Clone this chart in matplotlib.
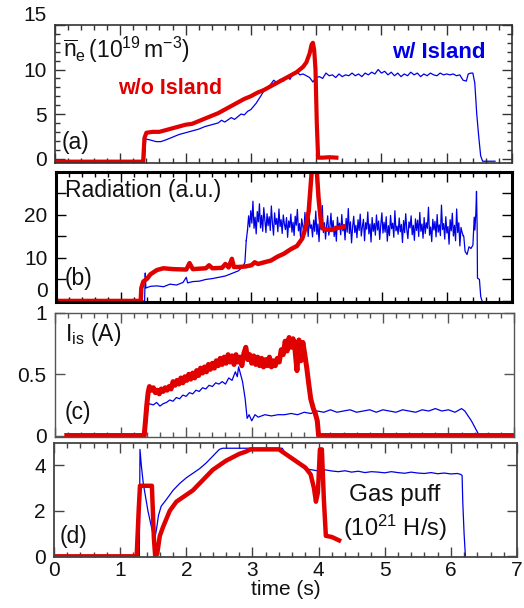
import numpy as np
import matplotlib
matplotlib.use("Agg")
import matplotlib.pyplot as plt
from matplotlib.ticker import MultipleLocator, NullFormatter

plt.rcParams['font.family'] = ['Liberation Sans', 'DejaVu Sans']
plt.rcParams['mathtext.fontset'] = 'custom'
plt.rcParams['mathtext.rm'] = 'Liberation Sans'
plt.rcParams['mathtext.it'] = 'Liberation Sans:italic'
plt.rcParams['mathtext.bf'] = 'Liberation Sans:bold'

RED = '#e00000'
BLUE = '#0000e6'

# ---------------- (a) line-averaged density ----------------
ne_red_t = [0, 1.35, 1.37, 1.40, 1.5, 1.6, 1.7, 1.8, 1.9, 2.0, 2.1, 2.2, 2.3, 2.4, 2.5, 2.6, 2.7,
            2.8, 2.9, 3.0, 3.1, 3.2, 3.3, 3.4, 3.5, 3.6, 3.7, 3.8, 3.85, 3.9, 3.93, 3.95, 3.97,
            3.99, 4.01, 4.03, 4.1, 4.2, 4.31]
ne_red_v = [-0.35, -0.35, 2.3, 2.9, 3.0, 3.0, 3.2, 3.4, 3.6, 3.8, 3.9, 4.2, 4.5, 4.8, 5.1, 5.5, 5.9,
            6.3, 6.7, 7.0, 7.4, 7.7, 8.1, 8.5, 8.9, 9.3, 9.7, 10.3, 10.8, 11.8, 12.8, 13.0, 12.2,
            10.0, 4.0, 0.1, 0.1, 0.15, 0.1]

ne_blue_t = [0, 1.37, 1.39, 1.45, 1.55, 1.62, 1.7, 1.8, 1.9, 2.0, 2.1, 2.2, 2.3, 2.4, 2.5, 2.55,
             2.6, 2.7, 2.75, 2.85, 2.9, 2.95, 3.0, 3.08, 3.15, 3.2, 3.3, 3.35, 3.4, 3.45, 3.5,
             3.55, 3.6, 3.65, 3.7, 3.75, 3.8, 3.85, 3.9, 3.95, 4.0, 4.05, 4.1, 4.15, 4.2, 4.25,
             4.3, 4.35, 4.4, 4.45, 4.5, 4.55, 4.6, 4.65, 4.7, 4.75, 4.8, 4.85, 4.9, 4.95, 5.0,
             5.05, 5.1, 5.15, 5.2, 5.25, 5.3, 5.35, 5.4, 5.45, 5.5, 5.55, 5.6, 5.65, 5.7, 5.75,
             5.8, 5.85, 5.9, 5.95, 6.0, 6.05, 6.1, 6.15, 6.2, 6.25, 6.3, 6.33, 6.37, 6.40, 6.43,
             6.46, 6.49, 6.52, 6.55, 6.74]
ne_blue_v = [-0.35, -0.35, 2.2, 2.1, 1.9, 1.9, 2.1, 2.4, 2.7, 2.9, 3.1, 3.3, 3.6, 3.8, 4.0, 4.3,
             4.1, 4.6, 4.4, 5.0, 4.9, 5.3, 5.5, 6.2, 7.0, 7.6, 8.3, 8.8, 8.5, 8.9, 8.7,
             9.2, 8.9, 9.6, 9.8, 9.4, 9.5, 9.3, 9.1, 8.6, 9.1, 9.2, 9.0, 9.6, 9.3, 9.4,
             9.1, 9.5, 9.2, 9.4, 9.3, 9.6, 9.3, 9.5, 9.2, 9.6, 9.4, 9.7, 9.5, 10.0, 9.6,
             9.8, 9.4, 9.7, 9.3, 9.6, 9.2, 9.5, 9.3, 9.7, 9.4, 9.6, 9.2, 9.5, 9.3, 9.6,
             9.4, 9.3, 9.6, 9.4, 9.5, 9.4, 9.5, 9.3, 9.4, 8.8, 8.7, 9.5, 9.6, 9.6, 8.5,
             5.0, 2.5, 0.3, -0.3, -0.3]

# ---------------- (b) radiation ----------------
rad_red_t = [0, 1.30, 1.31, 1.34, 1.40, 1.45, 1.55, 1.65, 1.8, 2.0, 2.05, 2.1, 2.3, 2.35, 2.4,
             2.55, 2.6, 2.65, 2.7, 2.73, 2.8, 2.9, 3.0, 3.05, 3.1, 3.2, 3.3, 3.4, 3.5, 3.6, 3.7,
             3.78, 3.84, 3.88, 3.91, 3.93, 4.0, 4.03, 4.07, 4.10, 4.2, 4.3, 4.42]
rad_red_v = [0, 0, 3.0, 4.5, 5.2, 6.2, 7.2, 7.6, 7.4, 7.3, 8.8, 7.4, 7.6, 8.3, 7.6,
             7.7, 8.6, 7.8, 9.8, 7.9, 7.9, 8.0, 8.3, 9.0, 8.6, 9.0, 9.4, 10.3, 11.0, 12.0, 12.8,
             14.5, 17.5, 21.0, 27.0, 31.0, 31.0, 24.0, 18.0, 16.8, 16.5, 16.9, 17.3]

rad_blue_t_start = [0, 1.36, 1.37, 1.38, 1.45, 1.55, 1.65, 1.75, 1.85, 1.95, 2.0, 2.02, 2.1,
                    2.2, 2.3, 2.4, 2.5, 2.6, 2.7, 2.8, 2.87, 2.90, 2.92]
rad_blue_v_start = [0, 0, 6.5, 3.0, 3.4, 3.5, 3.3, 3.9, 3.7, 4.3, 5.5, 4.2, 4.5,
                    4.6, 5.0, 5.2, 5.5, 5.8, 6.4, 7.0, 8.0, 9.0, 14.0]
rad_blue_noisy = [16.5, 19.8, 17.2, 21.0, 18.1, 23.2, 16.9, 19.5, 15.6, 20.8, 18.4, 22.6, 17.0, 19.9, 16.2, 21.7, 18.8, 15.9, 20.3, 17.5,
                  19.6, 16.4, 22.1, 18.0, 15.3, 20.5, 17.8, 19.2, 16.1, 21.4, 17.3, 18.9, 15.7, 20.0, 17.9, 16.6, 19.4, 14.8, 18.6, 17.1,
                  20.2, 16.0, 18.3, 15.2, 19.7, 17.6, 21.3, 16.3, 18.0, 14.6, 19.1, 17.4, 15.8, 20.6, 16.7, 18.5, 15.0, 19.3, 16.9, 17.7,
                  14.9, 18.8, 16.2, 20.9, 15.5, 17.9, 13.8, 19.0, 16.6, 22.2, 15.9, 18.2, 14.4, 17.6, 19.8, 15.3, 17.0, 20.4, 16.1, 18.7,
                  15.0, 17.4, 13.9, 19.5, 16.8, 18.1, 15.4, 20.1, 16.3, 17.8, 14.2, 19.2, 16.0, 21.5, 15.7, 18.4, 13.5, 17.2, 19.7, 15.9,
                  17.6, 14.7, 18.9, 16.4, 20.2, 15.1, 17.3, 19.0, 14.0, 18.2, 16.7, 20.7, 15.6, 17.9, 13.7, 19.4, 16.2, 18.0, 15.3, 20.0,
                  16.5, 18.6, 14.3, 17.7, 20.5, 15.8, 18.3, 16.0, 19.6, 13.9, 17.5, 15.2, 19.9, 16.8, 18.1, 14.8, 21.0, 16.3, 17.4, 15.5,
                  19.3, 16.1, 17.8, 13.6, 18.7, 15.9, 20.3, 16.6, 14.5, 18.4, 17.0, 19.8, 15.4, 17.6, 14.1, 19.1, 16.4, 18.8, 15.0, 20.6,
                  16.2, 17.9, 14.6, 19.4, 15.7, 18.2, 16.9, 21.8, 15.3, 17.2, 13.8, 19.0, 16.5, 18.5, 14.9, 20.1, 16.0, 17.7, 15.2, 22.3,
                  16.6, 18.0, 14.4, 19.6, 15.8, 17.3, 13.2, 18.9, 16.3, 20.4, 15.1, 17.6, 14.0, 21.4, 15.9, 18.2, 12.8, 17.1, 16.0, 15.2]
rad_blue_noisy_range = (2.94, 6.25)
rad_blue_t_end = [6.26, 6.28, 6.31, 6.34, 6.37, 6.40, 6.42, 6.43, 6.445, 6.455, 6.465, 6.47,
                  6.50, 6.52, 6.54]
rad_blue_v_end = [15.0, 11.5, 10.8, 12.6, 12.2, 13.0, 19.5, 16.5, 20.5, 25.5, 17.0, 5.3,
                  5.0, 1.0, 0.0]

# ---------------- (c) ion saturation current ----------------
iis_red_t_start = [0.18, 1.36, 1.38, 1.40, 1.42]
iis_red_v_start = [0, 0, 0.12, 0.25, 0.35]
iis_red_noisy = [0.40, 0.37, 0.39, 0.35, 0.37, 0.34, 0.38, 0.36, 0.39, 0.37, 0.40,
                 0.38, 0.44, 0.41, 0.45, 0.42, 0.47, 0.43, 0.48, 0.45, 0.50, 0.46,
                 0.51, 0.47, 0.53, 0.49, 0.55, 0.51, 0.56, 0.52, 0.58, 0.54, 0.59,
                 0.55, 0.61, 0.57, 0.63, 0.58, 0.64, 0.59, 0.66, 0.60, 0.65, 0.58,
                 0.66, 0.60, 0.64, 0.57, 0.67, 0.72, 0.62, 0.66, 0.59, 0.65, 0.58,
                 0.64, 0.57, 0.63, 0.56, 0.62, 0.57, 0.64, 0.56, 0.61, 0.57, 0.63,
                 0.60, 0.70, 0.66, 0.77, 0.69, 0.80, 0.72, 0.79, 0.70, 0.53, 0.78,
                 0.61, 0.76, 0.66, 0.55]
iis_red_noisy_range = (1.44, 3.84)
iis_red_t_end = [3.87, 3.90, 3.94, 3.97, 4.00, 4.02, 6.98]
iis_red_v_end = [0.42, 0.30, 0.22, 0.18, 0.12, 0.0, 0.0]

iis_blue_t = [0.18, 1.38, 1.40, 1.43, 1.5, 1.55, 1.6, 1.65, 1.7, 1.75, 1.8, 1.85, 1.9, 1.95,
              2.0, 2.05, 2.1, 2.15, 2.2, 2.25, 2.3, 2.35, 2.4, 2.45, 2.5, 2.55, 2.6, 2.65, 2.7,
              2.75, 2.78, 2.8, 2.83, 2.86, 2.9, 2.93, 2.96, 3.0, 3.05, 3.1, 3.2, 3.3, 3.4, 3.5,
              3.6, 3.7, 3.8, 3.9, 4.0, 4.1, 4.2, 4.3, 4.4, 4.5, 4.6, 4.7, 4.8, 4.9, 5.0, 5.1,
              5.2, 5.3, 5.4, 5.5, 5.6, 5.7, 5.8, 5.9, 6.0, 6.1, 6.2, 6.25, 6.3, 6.35, 6.4, 6.45,
              6.48, 6.95]
iis_blue_v = [0, 0, 0.15, 0.26, 0.25, 0.27, 0.24, 0.26, 0.27, 0.29, 0.28, 0.31, 0.30, 0.33,
              0.32, 0.35, 0.34, 0.37, 0.36, 0.39, 0.38, 0.41, 0.40, 0.43, 0.42, 0.44, 0.42, 0.47,
              0.45, 0.52, 0.48, 0.56, 0.50, 0.44, 0.30, 0.14, 0.17, 0.12, 0.17, 0.15, 0.17, 0.16,
              0.17, 0.17, 0.18, 0.17, 0.19, 0.18, 0.20, 0.19, 0.21, 0.19, 0.20, 0.21, 0.19, 0.20,
              0.21, 0.19, 0.21, 0.20, 0.19, 0.21, 0.20, 0.19, 0.21, 0.20, 0.22, 0.20, 0.21, 0.19,
              0.22, 0.20, 0.16, 0.12, 0.07, 0.02, 0.0, 0.0]

# ---------------- (d) gas puff ----------------
gas_red_t = [0, 1.25, 1.28, 1.30, 1.48, 1.51, 1.53, 1.56, 1.6, 1.65, 1.75, 1.85, 1.95, 2.1,
             2.2, 2.3, 2.4, 2.5, 2.6, 2.7, 2.8, 2.9, 2.97, 3.4, 3.5, 3.6, 3.7, 3.8, 3.88, 3.93,
             3.96, 3.99, 4.02, 4.05, 4.08, 4.11, 4.2, 4.31]
gas_red_v = [0, 0, 2.0, 3.1, 3.1, 0.8, 0.0, 0.1, 0.9, 1.3, 2.0, 2.4, 2.6, 2.9,
             3.2, 3.5, 3.8, 4.0, 4.2, 4.35, 4.5, 4.6, 4.7, 4.7, 4.5, 4.3, 4.1, 3.9, 3.6, 3.0,
             2.4, 2.8, 4.7, 4.7, 2.5, 0.9, 0.85, 0.7]

gas_blue_t = [0, 1.29, 1.30, 1.32, 1.35, 1.42, 1.48, 1.52, 1.55, 1.58, 1.62, 1.7, 1.8, 1.9,
              2.0, 2.1, 2.2, 2.3, 2.4, 2.5, 2.55, 3.45, 3.5, 3.6, 3.7, 3.8, 3.9, 4.0, 4.1, 4.2,
              4.3, 4.4, 4.5, 4.6, 4.7, 4.8, 4.9, 5.0, 5.1, 5.2, 5.3, 5.4, 5.5, 5.6, 5.7, 5.8,
              5.9, 6.0, 6.1, 6.15, 6.17, 6.18, 6.20, 6.22]
gas_blue_v = [0, 0, 4.7, 4.0, 3.2, 2.0, 1.2, 0.7, 1.2, 1.8, 2.2, 2.5, 2.9, 3.2,
              3.45, 3.65, 3.85, 4.1, 4.4, 4.7, 4.75, 4.75, 4.5, 4.25, 4.05, 3.85, 3.8, 3.75,
              3.8, 3.75, 3.72, 3.76, 3.70, 3.74, 3.68, 3.72, 3.70, 3.67, 3.72, 3.68, 3.65,
              3.70, 3.66, 3.64, 3.68, 3.63, 3.66, 3.62, 3.64, 3.6, 3.55, 2.4, 1.0, 0.0]

XLABELS = ['0', '1', '2', '3', '4', '5', '6', '7']

W, H = 524, 608
fig = plt.figure(figsize=(W / 100, H / 100), dpi=100)


def box(l, r, t, b):
    return [l / W, 1 - b / H, (r - l) / W, (b - t) / H]


ax_a = fig.add_axes(box(55, 512, 25, 163))
ax_b = fig.add_axes(box(56, 512, 172, 302))
ax_c = fig.add_axes(box(55, 514, 313, 437))
ax_d = fig.add_axes(box(54, 517, 443, 557))

TXT = '#111111'
FS_TICK = 15


def style(ax, spine_w, spine_c):
    ax.set_xlim(0, 7)
    ax.xaxis.set_major_locator(MultipleLocator(1))
    ax.xaxis.set_minor_locator(MultipleLocator(0.2))
    ax.tick_params(which='both', direction='in', top=True, right=True,
                   colors=spine_c, labelcolor=TXT, labelsize=FS_TICK, pad=6)
    ax.tick_params(which='major', length=7, width=1.0)
    ax.tick_params(which='minor', length=3.5, width=1.0)
    for s in ax.spines.values():
        s.set_linewidth(spine_w)
        s.set_color(spine_c)


def ftext(x, y, s, **kw):
    fig.text(x / W, 1 - y / H, s, va='center', **kw)


# (a)
style(ax_a, 1.2, '#333333')
ax_a.plot(ne_blue_t, ne_blue_v, color=BLUE, lw=0.9)
ax_a.plot(ne_red_t, ne_red_v, color=RED, lw=3.0)
ax_a.set_ylim(-0.5, 15)
ax_a.set_yticks([0, 5, 10, 15])
ax_a.set_yticklabels(['0', '5', '10', '15'])
ax_a.get_yticklabels()[3].set_va('bottom')
ax_a.yaxis.set_minor_locator(MultipleLocator(1))
ax_a.xaxis.set_major_formatter(NullFormatter())
ftext(63, 50, r'$\overline{\mathrm{n}}_{\mathrm{e}}\,(10^{19}\,\mathrm{m}^{-3})$',
      fontsize=16.5, color=TXT, ha='left')
ftext(62, 143, '(a)', fontsize=16.5, color=TXT, ha='left')
ftext(118, 89, 'w/o Island', fontsize=15.5, color=RED, fontweight='bold', ha='left')
ftext(392, 53, 'w/ Island', fontsize=16, color=BLUE, fontweight='bold', ha='left')

# (b)
style(ax_b, 2.2, '#000000')
ax_b.plot(rad_blue_t_start, rad_blue_v_start, color=BLUE, lw=0.9)
tn = np.linspace(rad_blue_noisy_range[0], rad_blue_noisy_range[1], len(rad_blue_noisy))
ax_b.plot(tn, rad_blue_noisy, color=BLUE, lw=0.9)
ax_b.plot([rad_blue_t_start[-1], tn[0]], [rad_blue_v_start[-1], rad_blue_noisy[0]],
          color=BLUE, lw=0.9)
ax_b.plot([tn[-1]] + rad_blue_t_end, [rad_blue_noisy[-1]] + rad_blue_v_end, color=BLUE, lw=0.9)
ax_b.plot(rad_red_t, rad_red_v, color=RED, lw=3.2)
ax_b.set_ylim(-0.25, 30)
ax_b.set_yticks([0, 5, 10, 15, 20, 25])
ax_b.set_yticklabels(['0', '', '10', '', '20', ''])
ax_b.get_yticklabels()[0].set_va('bottom')
ax_b.xaxis.set_major_formatter(NullFormatter())
ftext(65, 190, 'Radiation (a.u.)', fontsize=16.5, color=TXT, ha='left')
ftext(65, 279, '(b)', fontsize=16.5, color=TXT, ha='left')

# (c)
style(ax_c, 1.0, '#555555')
ax_c.plot(iis_blue_t, iis_blue_v, color=BLUE, lw=0.9)
tr = np.linspace(iis_red_noisy_range[0], iis_red_noisy_range[1], len(iis_red_noisy))
ax_c.plot(iis_red_t_start + list(tr) + iis_red_t_end,
          iis_red_v_start + iis_red_noisy + iis_red_v_end, color=RED, lw=3.6)
ax_c.set_ylim(-0.012, 1.0)
ax_c.set_yticks([0, 0.5, 1])
ax_c.set_yticklabels(['0', '0.5', '1'])
ax_c.xaxis.set_major_formatter(NullFormatter())
ftext(65, 335, r'I$_{\mathrm{is}}$ (A)', fontsize=16.5, color=TXT, ha='left')
ftext(65, 412, '(c)', fontsize=16.5, color=TXT, ha='left')

# (d)
style(ax_d, 1.3, '#444444')
ax_d.plot(gas_blue_t, gas_blue_v, color=BLUE, lw=0.9)
ax_d.plot(gas_red_t, gas_red_v, color=RED, lw=3.2)
ax_d.set_ylim(-0.03, 4.98)
ax_d.set_yticks([0, 2, 4])
ax_d.set_xticks(range(8))
ax_d.set_xticklabels(XLABELS)
ax_d.tick_params(axis='x', which='major', pad=3)
ax_d.set_xlabel('time (s)', fontsize=15, color=TXT, labelpad=0)
ftext(395, 495, 'Gas puff', fontsize=17.5, color=TXT, ha='center')
ftext(395, 528, r'(10$^{21}$ H/s)', fontsize=17, color=TXT, ha='center')
ftext(60, 536, '(d)', fontsize=16.5, color=TXT, ha='left')

fig.savefig('out.png', dpi=100)
